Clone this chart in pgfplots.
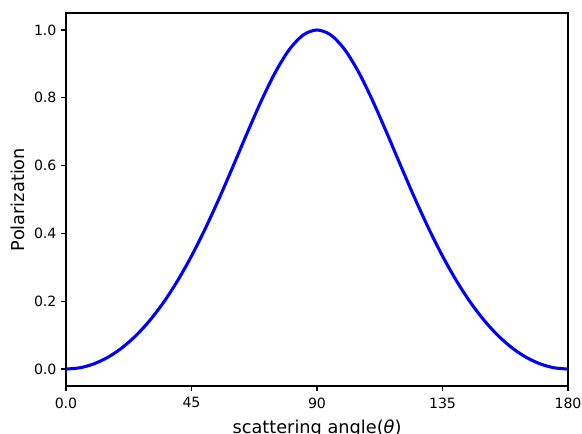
\documentclass[border=0pt]{standalone}
\usepackage{fontspec}
\setmainfont{DejaVu Sans}
\usepackage{pgfplots}
\pgfplotsset{compat=1.18}
\begin{document}
\begin{tikzpicture}
\begin{axis}[
  name=ax,
  scale only axis,
  width=376.5pt, height=279.75pt,
  xmin=0, xmax=180, ymin=-0.05, ymax=1.05,
  xtick={0,45,90,135,180},
  xticklabels={0.0,45,90,135,180},
  ytick={0,0.2,0.4,0.6,0.8,1.0},
  yticklabel style={/pgf/number format/.cd,fixed,fixed zerofill,precision=1},
  /pgf/number format/assume math mode=true,
  tick label style={font=\fontsize{10.6}{12}\selectfont},
  xticklabel style={yshift=-1.5pt},
  label style={font=\fontsize{13.3}{15}\selectfont},
  tick align=outside,
  major tick length=3.6pt,
  xtick pos=bottom, ytick pos=left,
  axis line style={line width=0.83pt},
  every tick/.style={black, line width=0.83pt},
  xlabel={scattering angle(\textit{θ})},
  ylabel={Polarization},
  xlabel style={yshift=-2pt},
  ylabel style={yshift=0pt},
]
\addplot[blue, line width=2.3pt, smooth] coordinates {
(0,0) (5,0.00381) (10,0.01531) (15,0.03466) (20,0.06212) (25,0.09806)
(30,0.14286) (35,0.19688) (40,0.26038) (45,0.33333) (50,0.41525)
(55,0.50490) (60,0.6) (65,0.69691) (70,0.79054) (75,0.87443)
(80,0.94146) (85,0.98492) (90,1)
(95,0.98492) (100,0.94146) (105,0.87443) (110,0.79054) (115,0.69691)
(120,0.6) (125,0.50490) (130,0.41525) (135,0.33333) (140,0.26038)
(145,0.19688) (150,0.14286) (155,0.09806) (160,0.06212) (165,0.03466)
(170,0.01531) (175,0.00381) (180,0)
};
\end{axis}
\pgfresetboundingbox
\path[use as bounding box] ([xshift=-49.5pt,yshift=-35.25pt]ax.south west) rectangle ([xshift=10.5pt,yshift=9.75pt]ax.north east);
\end{tikzpicture}
\end{document}
